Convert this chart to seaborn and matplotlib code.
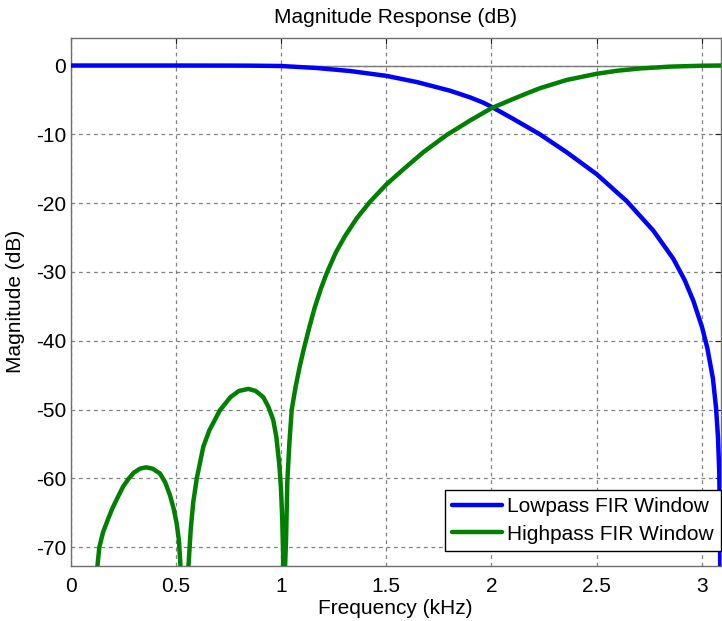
import matplotlib
matplotlib.use("Agg")
import matplotlib.pyplot as plt
import seaborn as sns
import pandas as pd

# Lowpass FIR (window method) magnitude response, kHz / dB
lp_freq = [0.0, 0.5, 0.75, 0.853, 1.0, 1.17, 1.328, 1.5, 1.645, 1.803, 1.9, 1.961,
           2.0, 2.1, 2.23, 2.357, 2.5, 2.642, 2.769, 2.864, 2.918, 2.959, 3.0,
           3.025, 3.052, 3.067, 3.076, 3.082, 3.086, 3.088]
lp_db = [0.0, 0.0, -0.01, -0.02, -0.07, -0.36, -0.8, -1.5, -2.4, -3.66, -4.65, -5.4,
         -6.0, -7.7, -10.0, -12.6, -15.8, -19.7, -24.0, -28.1, -31.2, -34.2, -38.0,
         -41.0, -45.5, -49.8, -54.0, -59.0, -68.0, -90.0]

# Highpass FIR (window method) magnitude response, kHz / dB
hp_freq = [0.114, 0.137, 0.155, 0.18, 0.2, 0.227, 0.25, 0.275, 0.3, 0.33, 0.359,
           0.39, 0.425, 0.45, 0.473, 0.49, 0.504, 0.515, 0.527, 0.541,
           0.556, 0.562, 0.571, 0.583, 0.6, 0.631, 0.66, 0.71, 0.76, 0.8, 0.845,
           0.88, 0.916, 0.94, 0.963, 0.978, 0.992, 1.0, 1.006, 1.01, 1.013,
           1.018, 1.024, 1.03, 1.04, 1.051, 1.07, 1.09, 1.11, 1.135, 1.16, 1.19,
           1.217, 1.26, 1.304, 1.36, 1.423, 1.5, 1.581, 1.676, 1.787, 1.898,
           2.0, 2.1, 2.18, 2.23, 2.357, 2.5, 2.6, 2.705, 2.848, 3.0, 3.088]
hp_db = [-77.0, -70.0, -67.8, -65.8, -64.3, -62.6, -61.2, -60.1, -59.2, -58.6, -58.4,
         -58.6, -59.3, -60.6, -62.5, -64.4, -66.5, -69.0, -75.0, -100.0,
         -75.0, -72.0, -67.5, -63.5, -60.0, -55.4, -53.0, -50.1, -48.2, -47.3, -47.0,
         -47.3, -48.2, -49.6, -51.5, -54.0, -58.0, -61.5, -66.0, -71.0, -100.0,
         -74.0, -69.0, -60.5, -54.8, -50.0, -46.6, -43.6, -41.0, -38.0, -35.2, -32.4,
         -30.2, -27.2, -24.8, -22.2, -19.8, -17.3, -15.1, -12.6, -10.1, -8.0,
         -6.2, -4.9, -3.9, -3.3, -2.1, -1.2, -0.75, -0.43, -0.16, -0.03, 0.0]

series_names = ["Lowpass FIR Window", "Highpass FIR Window"]
series_colors = ["#0000ff", "#008000"]

x_ticks = [0, 0.5, 1, 1.5, 2, 2.5, 3]
x_tick_labels = ["0", "0.5", "1", "1.5", "2", "2.5", "3"]
y_ticks = [0, -10, -20, -30, -40, -50, -60, -70]
y_tick_labels = ["0", "-10", "-20", "-30", "-40", "-50", "-60", "-70"]

df = pd.concat([
    pd.DataFrame({"freq": lp_freq, "mag": lp_db, "filter": series_names[0]}),
    pd.DataFrame({"freq": hp_freq, "mag": hp_db, "filter": series_names[1]}),
], ignore_index=True)

sns.set_theme(style="white")
plt.rcParams["font.family"] = ["Liberation Sans", "DejaVu Sans"]
plt.rcParams["text.color"] = "black"
plt.rcParams["axes.labelcolor"] = "black"

FS = 15

fig = plt.figure(figsize=(7.22, 6.21), dpi=100)
ax = fig.add_axes([70.5 / 722, 1 - 565.7 / 621, 650 / 722, 527.7 / 621])

ax.axhline(0, color="#7a7a7a", lw=1.0, zorder=1)

sns.lineplot(data=df, x="freq", y="mag", hue="filter", hue_order=series_names,
             palette=dict(zip(series_names, series_colors)), estimator=None,
             sort=False, linewidth=3.2, ax=ax, zorder=3)

ax.set_xlim(0, 3.088)
ax.set_ylim(-72.7, 4.0)
ax.set_xticks(x_ticks)
ax.set_xticklabels(x_tick_labels)
ax.set_yticks(y_ticks)
ax.set_yticklabels(y_tick_labels)

ax.grid(True, color="#808080", linestyle=(0, (3, 3)), linewidth=0.9)
ax.set_axisbelow(True)
for sp in ax.spines.values():
    sp.set_color("#6e6e6e")
    sp.set_linewidth(1.0)
ax.tick_params(direction="in", length=4, width=0.8, color="#222222",
               top=True, right=True, labelsize=FS, labelcolor="black")
ax.tick_params(axis="x", pad=8)
ax.tick_params(axis="y", pad=3)

ax.set_title("Magnitude Response (dB)", fontsize=FS, pad=11, color="black")
ax.set_xlabel("Frequency (kHz)", fontsize=FS, labelpad=2)
ax.set_ylabel("Magnitude (dB)", fontsize=FS, labelpad=8)

leg = ax.legend(loc="lower right", bbox_to_anchor=(1.0, 0.028), borderaxespad=0,
                fancybox=False, framealpha=1, edgecolor="#000000", fontsize=FS,
                handlelength=2.4, handletextpad=0.2, labelspacing=0.4,
                borderpad=0.35, title=None)
leg.get_frame().set_linewidth(1.0)
for line in leg.get_lines():
    line.set_linewidth(3.2)
for t in leg.get_texts():
    t.set_color("black")

fig.savefig("out.png", dpi=100, facecolor="white")
